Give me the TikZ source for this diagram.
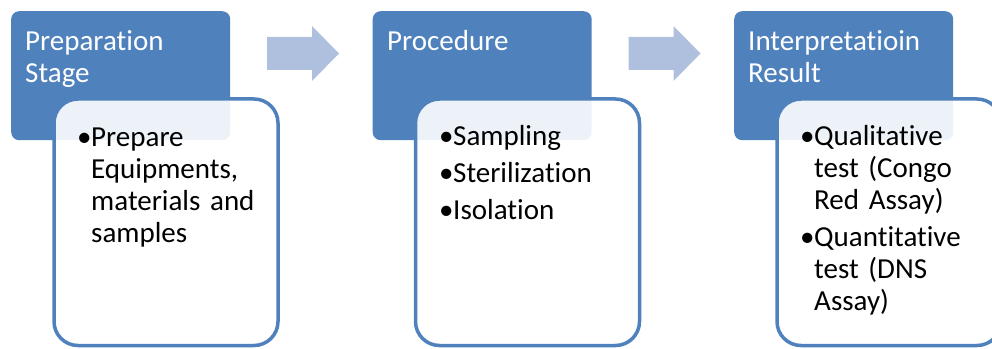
\documentclass[tikz,border=0pt]{standalone}
\usepackage{fontspec}
\setmainfont{Carlito}[Ligatures={NoCommon,NoContextual,NoRare}]
\definecolor{acc}{HTML}{4F81BD}
\definecolor{arrcol}{HTML}{AFC0DE}
\tikzset{
  x=1pt, y=1pt,
  hdrbox/.style={fill=acc, draw=none, rounded corners=8pt},
  bodybox/.style={fill=white, fill opacity=0.9, draw=acc, draw opacity=1, line width=3.5pt, rounded corners=24pt},
  hdrtext/.style={anchor=base west, inner sep=0pt, text=white, align=left, text width=210pt,
    font=\fontsize{29}{32}\selectfont},
  bodytext/.style={anchor=base west, inner sep=0pt, text=black, align=left, text width=230pt,
    font=\fontsize{29}{32}\selectfont},
  blockarrow/.style={fill=arrcol, draw=none}
}
\newcommand{\bul}{\makebox[11pt][l]{\hspace*{-3pt}•}}
\newcommand{\ind}{\hspace*{11pt}}
\begin{document}
\begin{tikzpicture}
\useasboundingbox (0,0) rectangle (992,348);
\clip (0,0) rectangle (992,348);
% block arrows
\draw[blockarrow] (267,311) -- (312,311) -- (312,322) -- (339,294.5) -- (312,267) -- (312,278) -- (267,278) -- cycle;
\draw[blockarrow] (628.5,311) -- (673.5,311) -- (673.5,322) -- (700.5,294.5) -- (673.5,267) -- (673.5,278) -- (628.5,278) -- cycle;
% stage 1
\node[hdrbox, minimum width=219pt, minimum height=129pt, anchor=north west, inner sep=0pt] (h1) at (11,337) {};
\draw[bodybox] (54,249) rectangle (278,2.5);
\node[hdrtext] (t1) at (25,297) {Preparation\\Stage};
\node[bodytext] (l1) at (80,201) {\bul Prepare\\\ind Equipments,\\\ind materials and\\\ind samples};
% stage 2
\node[hdrbox, minimum width=219pt, minimum height=129pt, anchor=north west, inner sep=0pt] (h2) at (372.5,337) {};
\draw[bodybox] (415.5,249) rectangle (639.5,2.5);
\node[hdrtext] (t2) at (387,297) {Procedure};
\node[bodytext] (l2) at (442,202) {\bul Sampling\\[5pt]\bul Sterilization\\[5pt]\bul Isolation};
% stage 3
\node[hdrbox, minimum width=219pt, minimum height=129pt, anchor=north west, inner sep=0pt] (h3) at (734,337) {};
\draw[bodybox] (777,249) rectangle (1001,2.5);
\node[hdrtext] (t3) at (748,297) {Interpretatioin\\Result};
\node[bodytext] (l3) at (803,202) {\bul Qualitative\\\ind test (Congo\\\ind Red Assay)\\[5pt]\bul Quantitative\\\ind test (DNS\\\ind Assay)};
\end{tikzpicture}
\end{document}
